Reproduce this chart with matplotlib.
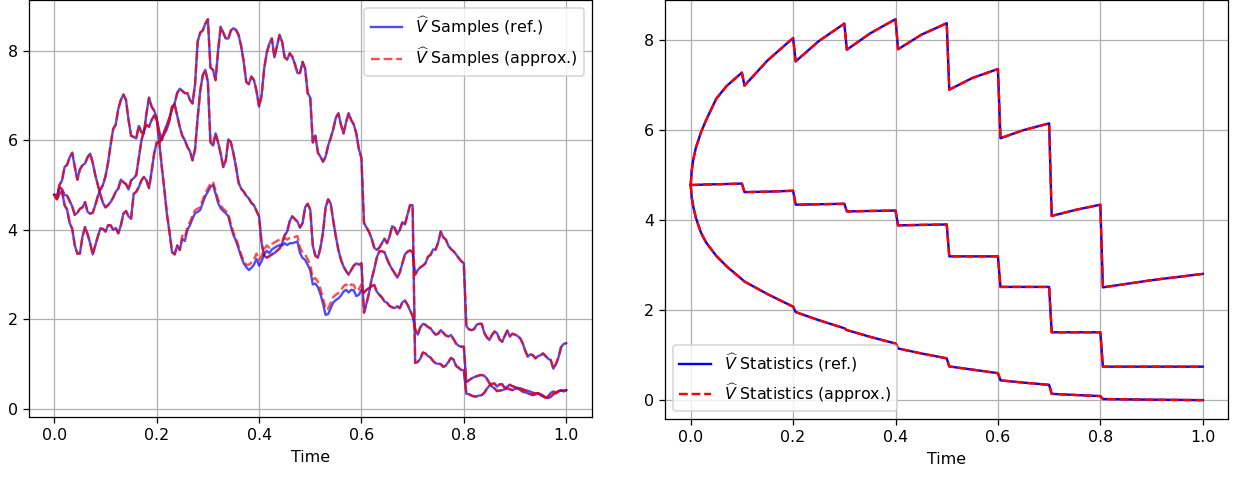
import numpy as np
import matplotlib
matplotlib.use("Agg")
import matplotlib.pyplot as plt

# ---- sample paths on a uniform time grid (dt = 0.005) ----
time = np.linspace(0.0, 1.0, 201)

path_a = [
    4.78, 4.70, 5.00, 5.10, 5.40, 5.45, 5.62, 5.72, 5.40, 5.12,
    5.35, 5.44, 5.48, 5.62, 5.70, 5.50, 5.22, 5.00, 4.78, 4.60,
    4.50, 4.55, 4.62, 4.72, 4.85, 4.92, 5.12, 5.06, 5.02, 4.90,
    5.10, 5.15, 5.22, 5.60, 5.98, 6.22, 6.34, 6.30, 6.45, 6.55,
    6.45, 6.20, 6.00, 6.20, 6.35, 6.50, 6.70, 6.82, 7.05, 7.15,
    7.10, 7.05, 7.05, 6.90, 6.82, 7.25, 8.20, 8.40, 8.45, 8.60,
    8.70, 7.62, 7.57, 7.34, 8.00, 8.53, 8.40, 8.27, 8.27, 8.45,
    8.50, 8.46, 8.35, 8.10, 7.75, 7.30, 7.25, 7.42, 7.34, 7.10,
    6.75, 7.00, 7.60, 7.95, 8.15, 8.27, 7.85, 8.10, 8.35, 8.20,
    7.85, 7.80, 7.94, 7.86, 7.70, 7.50, 7.50, 7.75, 7.60, 7.05,
    6.95, 5.95, 6.10, 5.72, 5.63, 5.52, 5.63, 5.88, 6.05, 6.25,
    6.50, 6.60, 6.35, 6.15, 6.40, 6.60, 6.45, 6.35, 6.15, 5.80,
    5.60, 4.15, 4.05, 3.95, 3.80, 3.60, 3.55, 3.60, 3.70, 3.80,
    3.70, 3.85, 4.08, 4.04, 3.90, 4.00, 4.17, 4.12, 4.34, 4.55,
    4.55, 1.03, 1.05, 1.12, 1.26, 1.24, 1.18, 1.15, 1.07, 1.02,
    1.01, 1.00, 0.94, 0.97, 1.05, 1.14, 1.10, 0.96, 0.92, 0.87,
    0.87, 0.34, 0.33, 0.30, 0.28, 0.28, 0.30, 0.31, 0.36, 0.45,
    0.52, 0.56, 0.57, 0.50, 0.55, 0.55, 0.47, 0.50, 0.54, 0.51,
    0.49, 0.47, 0.46, 0.44, 0.42, 0.40, 0.39, 0.36, 0.35, 0.35,
    0.33, 0.30, 0.25, 0.28, 0.36, 0.39, 0.35, 0.40, 0.41, 0.39,
    0.42,
]

path_b = [
    4.78, 4.68, 4.80, 4.86, 4.55, 4.45, 4.15, 4.02, 3.65, 3.47,
    3.47, 3.85, 4.06, 3.90, 3.70, 3.45, 3.65, 3.85, 4.03, 4.02,
    3.96, 4.10, 4.10, 4.00, 4.04, 3.92, 4.10, 4.36, 4.42, 4.30,
    4.25, 4.80, 4.85, 4.95, 5.10, 5.18, 5.10, 4.93, 5.30, 5.70,
    5.95, 5.95, 6.05, 6.15, 6.25, 6.45, 6.75, 6.80, 6.55, 6.30,
    6.10, 6.00, 5.85, 5.75, 5.55, 5.80, 6.50, 7.10, 7.45, 7.57,
    7.30, 5.95, 5.88, 6.15, 5.95, 5.70, 5.40, 5.55, 6.02, 5.95,
    5.70, 5.40, 5.05, 4.92, 4.85, 4.76, 4.70, 4.60, 4.55, 4.42,
    4.30, 3.70, 3.42, 3.38, 3.41, 3.45, 3.48, 3.53, 3.58, 3.70,
    3.88, 3.96, 4.20, 4.30, 4.24, 4.18, 4.05, 4.15, 4.50, 4.58,
    4.45, 3.65, 3.42, 3.38, 3.60, 3.95, 4.50, 4.68, 4.58, 4.20,
    3.85, 3.55, 3.33, 3.18, 3.08, 3.00, 3.10, 3.20, 3.25, 3.22,
    3.25, 2.15, 2.36, 2.60, 2.90, 3.12, 3.38, 3.52, 3.52, 3.50,
    3.35, 3.22, 3.12, 3.03, 2.93, 3.05, 3.25, 3.45, 3.51, 3.54,
    3.50, 3.00, 3.10, 3.16, 3.20, 3.25, 3.40, 3.44, 3.56, 3.56,
    3.72, 3.96, 3.83, 3.78, 3.64, 3.57, 3.52, 3.45, 3.37, 3.30,
    3.25, 1.85, 1.78, 1.76, 1.78, 1.88, 1.90, 1.90, 1.70, 1.60,
    1.54, 1.65, 1.73, 1.69, 1.55, 1.50, 1.63, 1.75, 1.62, 1.68,
    1.66, 1.63, 1.58, 1.47, 1.30, 1.17, 1.22, 1.20, 1.13, 1.18,
    1.20, 1.24, 1.18, 1.12, 1.09, 0.90, 1.00, 1.15, 1.38, 1.45,
    1.47,
]

path_c = [
    4.78, 4.73, 4.95, 4.90, 4.78, 4.76, 4.64, 4.52, 4.33, 4.38,
    4.47, 4.50, 4.62, 4.40, 4.36, 4.38, 4.55, 4.75, 4.90, 5.00,
    5.20, 5.50, 5.90, 6.25, 6.35, 6.70, 6.90, 7.02, 6.90, 6.45,
    6.10, 6.07, 6.04, 6.32, 6.18, 6.15, 6.60, 6.95, 6.75, 6.66,
    6.50, 5.95, 5.40, 4.90, 4.35, 3.95, 3.50, 3.45, 3.65, 3.55,
    3.80, 3.75, 4.00, 4.10, 4.25, 4.37, 4.40, 4.44, 4.60, 4.75,
    4.85, 4.96, 5.00, 4.81, 4.60, 4.48, 4.42, 4.37, 4.30, 4.07,
    3.88, 3.75, 3.58, 3.40, 3.25, 3.17, 3.10, 3.15, 3.22, 3.35,
    3.20, 3.30, 3.45, 3.53, 3.48, 3.56, 3.60, 3.63, 3.66, 3.65,
    3.70, 3.66, 3.70, 3.70, 3.72, 3.74, 3.48, 3.37, 3.33, 3.22,
    3.10, 2.78, 2.80, 2.72, 2.56, 2.35, 2.10, 2.12, 2.25, 2.38,
    2.43, 2.47, 2.53, 2.62, 2.66, 2.60, 2.66, 2.65, 2.52, 2.55,
    2.66, 2.60, 2.66, 2.70, 2.74, 2.77, 2.62, 2.55, 2.49, 2.40,
    2.37, 2.30, 2.27, 2.25, 2.29, 2.25, 2.38, 2.42, 2.33, 2.20,
    2.08, 1.78, 1.66, 1.82, 1.90, 1.88, 1.83, 1.80, 1.72, 1.66,
    1.68, 1.76, 1.70, 1.64, 1.62, 1.65, 1.56, 1.46, 1.41, 1.39,
    1.39, 0.60, 0.64, 0.68, 0.71, 0.73, 0.75, 0.76, 0.74, 0.68,
    0.58, 0.50, 0.46, 0.40, 0.41, 0.42, 0.44, 0.46, 0.44, 0.42,
    0.45, 0.46, 0.43, 0.39, 0.37, 0.35, 0.33, 0.31, 0.33, 0.35,
    0.31, 0.28, 0.26, 0.24, 0.27, 0.33, 0.37, 0.39, 0.42, 0.41,
    0.42,
]

# deviation of the approximate model from the reference on the third path
approx_dev_c = [0.0] * 50 + [0.07] * 16 + [0.05] * 10 + [0.12] * 45 + [0.0] * 80

# ---- statistics (upper band, mean, lower band) ----
stat_time = [0.0, 0.002, 0.005, 0.01, 0.02, 0.03, 0.05, 0.07, 0.1, 0.105,
             0.15, 0.2, 0.205, 0.25, 0.3, 0.305, 0.35, 0.4, 0.405, 0.45,
             0.5, 0.505, 0.55, 0.6, 0.605, 0.65, 0.7, 0.705, 0.75, 0.8,
             0.805, 0.9, 1.0]
stat_upper = [4.78, 5.10, 5.34, 5.60, 5.95, 6.22, 6.70, 6.98, 7.28, 6.99,
              7.55, 8.05, 7.53, 7.98, 8.37, 7.79, 8.15, 8.47, 7.80, 8.12,
              8.38, 6.90, 7.16, 7.36, 5.82, 6.00, 6.15, 4.09, 4.22, 4.34,
              2.50, 2.66, 2.80]
stat_mean = [4.78, 4.78, 4.78, 4.78, 4.785, 4.79, 4.795, 4.80, 4.81, 4.62,
             4.63, 4.65, 4.34, 4.35, 4.36, 4.19, 4.20, 4.21, 3.88, 3.89,
             3.90, 3.19, 3.19, 3.19, 2.51, 2.51, 2.51, 1.50, 1.50, 1.50,
             0.735, 0.735, 0.735]
stat_lower = [4.78, 4.50, 4.30, 4.05, 3.72, 3.50, 3.20, 2.97, 2.68, 2.63,
              2.35, 2.07, 1.95, 1.77, 1.59, 1.55, 1.40, 1.25, 1.14, 1.03,
              0.92, 0.74, 0.67, 0.59, 0.43, 0.38, 0.33, 0.13, 0.105, 0.08,
              0.015, 0.0, -0.01]

DPI = 114
fig = plt.figure(figsize=(1239 / DPI, 477 / DPI), dpi=DPI)
ax1 = fig.add_axes([0.0232, 0.1254, 0.4544, 0.8740])
ax2 = fig.add_axes([0.5368, 0.1212, 0.4546, 0.8786])

# left: individual sample paths
ref_paths = [path_a, path_b, path_c]
approx_paths = [path_a, path_b, list(np.array(path_c) + np.array(approx_dev_c))]
for i, p in enumerate(ref_paths):
    ax1.plot(time, p, color="blue", alpha=0.7, lw=1.5,
             label=r"$\widehat{V}$ Samples (ref.)" if i == 0 else None)
for i, p in enumerate(approx_paths):
    ax1.plot(time, p, color="red", ls="--", alpha=0.7, lw=1.5,
             label=r"$\widehat{V}$ Samples (approx.)" if i == 0 else None)
ax1.set_xlabel("Time")
ax1.grid(True)
ax1.legend(loc="upper right")

# right: statistics
for i, s in enumerate([stat_upper, stat_mean, stat_lower]):
    ax2.plot(stat_time, s, color="blue", lw=1.5,
             label=r"$\widehat{V}$ Statistics (ref.)" if i == 0 else None)
for i, s in enumerate([stat_upper, stat_mean, stat_lower]):
    ax2.plot(stat_time, s, color="red", ls="--", lw=1.5,
             label=r"$\widehat{V}$ Statistics (approx.)" if i == 0 else None)
ax2.set_xlabel("Time")
ax2.grid(True)
ax2.legend(loc="lower left")

fig.savefig("out.png", dpi=DPI)
